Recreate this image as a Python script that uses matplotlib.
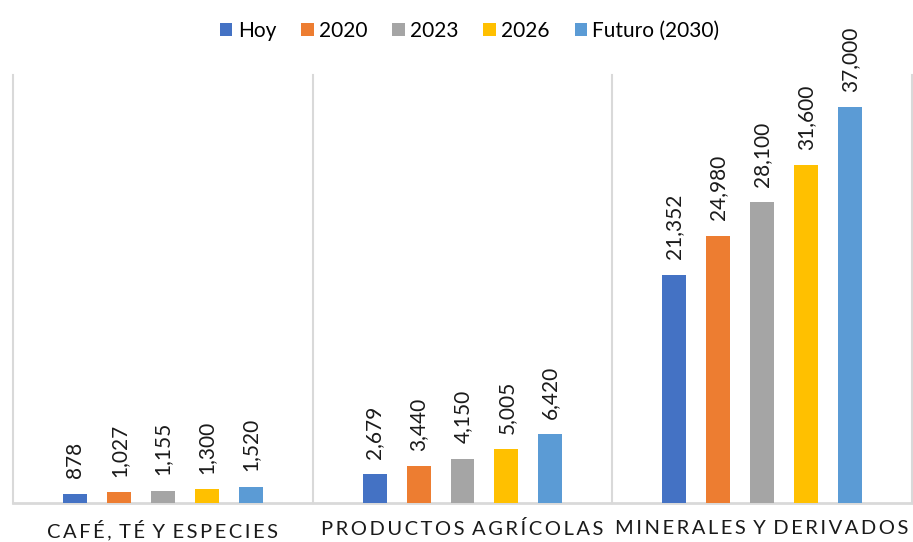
import matplotlib.pyplot as plt
import numpy as np

# Datos del grafico
categorias = ['CAFÉ, TÉ Y ESPECIES', 'PRODUCTOS AGRÍCOLAS', 'MINERALES Y DERIVADOS']
series = ['Hoy', '2020', '2023', '2026', 'Futuro (2030)']
hoy = [878, 2679, 21352]
v2020 = [1027, 3440, 24980]
v2023 = [1155, 4150, 28100]
v2026 = [1300, 5005, 31600]
futuro = [1520, 6420, 37000]

colores = ['#4472C4', '#ED7D31', '#A5A5A5', '#FFC000', '#5B9BD5']


def espaciar(texto):
    # imitate Excel character spacing
    palabras = texto.split(' ')
    return '\u2009\u2009\u2009'.join('\u2009'.join(p) for p in palabras)


plt.rcParams['font.family'] = ['Lato', 'DejaVu Sans']

fig = plt.figure(figsize=(9.13, 5.42), dpi=100)
ax = fig.add_axes([13 / 913, 39 / 542, 899 / 913, 428 / 542])

x = np.arange(len(categorias))
paso = 0.1467
ancho = 0.08
valores = [hoy, v2020, v2023, v2026, futuro]

for i, (nombre, vals) in enumerate(zip(series, valores)):
    pos = x + (i - 2) * paso
    barras = ax.bar(pos, vals, width=ancho, color=colores[i], label=nombre, zorder=3)
    for b, v in zip(barras, vals):
        ax.annotate(f'{v:,}', (b.get_x() + b.get_width() / 2, v),
                    xytext=(0, 11), textcoords='offset points',
                    rotation=90, ha='center', va='bottom', fontsize=15, color='#1a1a1a')

ax.set_xlim(-0.5, 2.5)
ax.set_ylim(0, 40000)

# separadores entre categorias
for sep in [-0.5, 0.5, 1.5, 2.5]:
    ax.axvline(sep, color='#D9D9D9', linewidth=1.5, zorder=1, clip_on=False)

for s in ['top', 'left', 'right']:
    ax.spines[s].set_visible(False)
ax.spines['bottom'].set_color('#D9D9D9')
ax.spines['bottom'].set_linewidth(2)

ax.set_yticks([])
ax.set_xticks(x)
ax.set_xticklabels([espaciar(c) for c in categorias], fontsize=14.5, color='#1a1a1a')
ax.tick_params(axis='x', length=0, pad=12)

ax.legend(loc='upper center', bbox_to_anchor=(0.508, 1.17), ncol=5, frameon=False,
          fontsize=15, handlelength=0.6, handleheight=0.6, handletextpad=0.25,
          columnspacing=1.2)

fig.savefig('out.png', dpi=100, facecolor='white')
